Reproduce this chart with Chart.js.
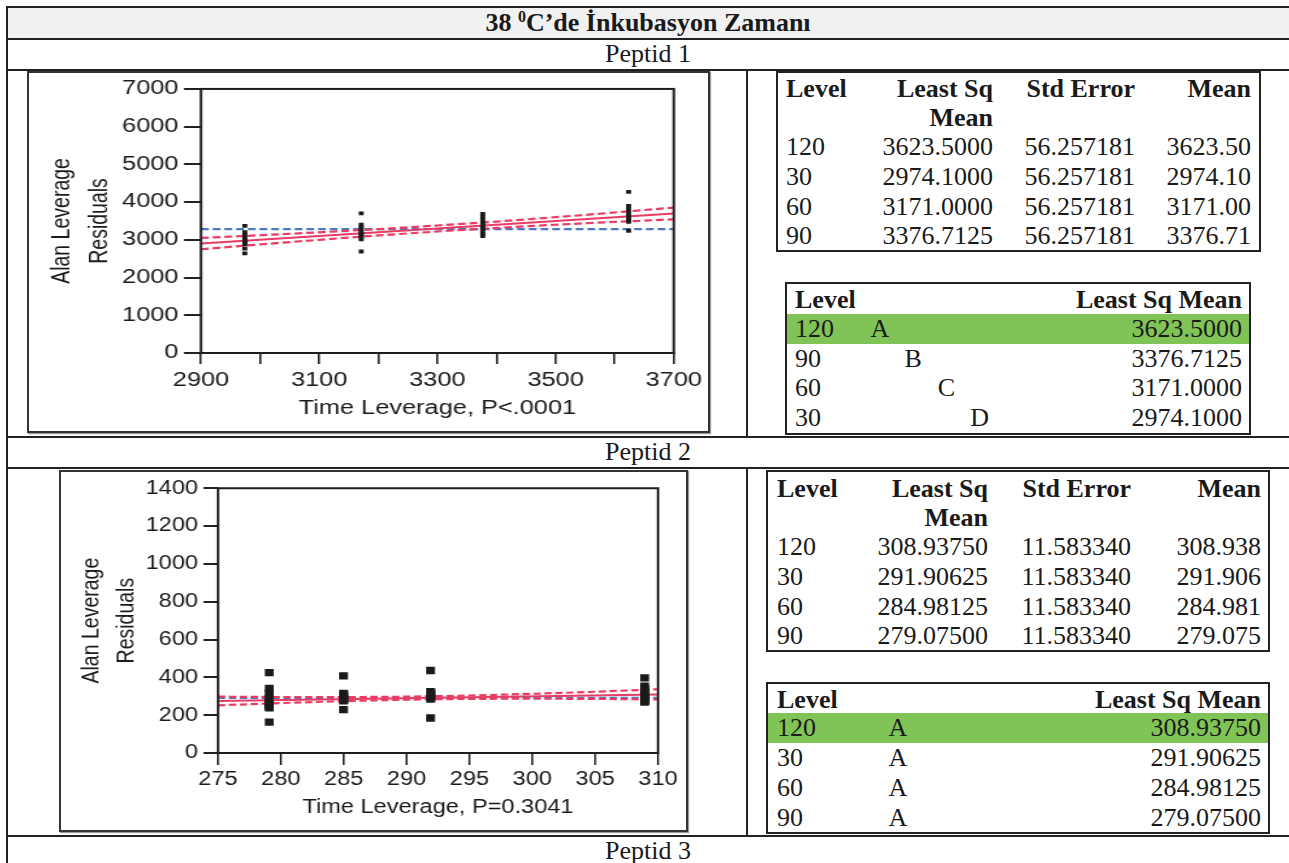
<!DOCTYPE html>
<html>
<head>
<meta charset="utf-8">
<script src="https://cdn.jsdelivr.net/npm/chart.js@4.4.1/dist/chart.umd.min.js"></script>
<style>
  body { margin: 0; background: #fff; width: 1289px; height: 863px; overflow: hidden; position: relative;
         font-family: 'Liberation Serif', 'Times New Roman', serif; color: #1a1a1a; }
  .hl { position: absolute; height: 2px; background: #222; }
  .vl { position: absolute; width: 2px; background: #222; }
  .t { position: absolute; white-space: nowrap; font-size: 26px; line-height: 30px; height: 30px; }
  .box { position: absolute; border: 2px solid #222; box-sizing: border-box; }
  .cbox { position: absolute; border: 2px solid #333; box-sizing: border-box; box-shadow: 1px 1px 1px #999; }
  canvas { position: absolute; transform-origin: 0 0; }
</style>
</head>
<body>
<script>
// ---- Peptid 1 : leverage plot data ----
const p1GroupX = [2974.1, 3171.0, 3376.7125, 3623.5];
const p1Res30  = [3370, 3200, 3130, 3060, 3000, 2960, 2920, 2890, 2770, 2640];
const p1Res60  = [3700, 3400, 3340, 3280, 3220, 3160, 3110, 3060, 3010, 2690];
const p1Res90  = [3690, 3620, 3540, 3460, 3400, 3340, 3280, 3220, 3160, 3100];
const p1Res120 = [4270, 3900, 3820, 3740, 3660, 3590, 3540, 3500, 3480, 3240];
const p1FitX = [2900, 3700];
const p1FitY = [2900, 3700];
const p1CurveX = [2900, 3000, 3100, 3200, 3300, 3400, 3500, 3600, 3700];
const p1Upper  = [3050, 3122, 3200, 3284, 3380, 3485, 3600, 3725, 3855];
const p1Lower  = [2750, 2878, 3000, 3116, 3220, 3315, 3400, 3475, 3545];
const p1Mean = 3286.3;

// ---- Peptid 2 : leverage plot data ----
const p2GroupX = [279.075, 284.98125, 291.90625, 308.9375];
const p2Res90  = [425, 341, 315, 292, 275, 262, 252, 245, 239, 163];
const p2Res60  = [408, 315, 310, 305, 296, 288, 282, 279, 276, 229];
const p2Res30  = [436, 324, 318, 315, 308, 300, 293, 290, 285, 185];
const p2Res120 = [397, 354, 340, 325, 312, 300, 290, 280, 275, 269];
const p2FitX = [275, 310];
const p2FitY = [275, 310];
const p2CurveX = [275, 280, 285, 290, 295, 300, 305, 310];
const p2Upper  = [298, 296, 296, 298, 304, 313, 324, 337];
const p2Lower  = [252, 264, 274, 282, 286, 287, 286, 283];
const p2Mean = 291.2;

// ---- tables ----
const levels = ['120', '30', '60', '90'];
const p1LsMean = ['3623.5000', '2974.1000', '3171.0000', '3376.7125'];
const p1StdErr = ['56.257181', '56.257181', '56.257181', '56.257181'];
const p1MeanTxt = ['3623.50', '2974.10', '3171.00', '3376.71'];
const p1SortLevel = ['120', '90', '60', '30'];
const p1Letter = ['A', 'B', 'C', 'D'];
const p1SortMean = ['3623.5000', '3376.7125', '3171.0000', '2974.1000'];

const p2LsMean = ['308.93750', '291.90625', '284.98125', '279.07500'];
const p2StdErr = ['11.583340', '11.583340', '11.583340', '11.583340'];
const p2MeanTxt = ['308.938', '291.906', '284.981', '279.075'];
const p2SortLevel = ['120', '30', '60', '90'];
const p2Letter = ['A', 'A', 'A', 'A'];
const p2SortMean = ['308.93750', '291.90625', '284.98125', '279.07500'];

const RED = '#ea3b62', BLUE = '#4a78c4';

function el(cls, l, t, w, h, extra) {
  const d = document.createElement('div');
  d.className = cls;
  d.style.left = l + 'px'; d.style.top = t + 'px';
  if (w != null) d.style.width = w + 'px';
  if (h != null) d.style.height = h + 'px';
  if (extra) Object.assign(d.style, extra);
  document.body.appendChild(d);
  return d;
}

function txt(s, x, y, align, bold) {
  const d = el('t', x, y - 15);
  d.innerHTML = s;
  if (align === 'right') { d.style.left = (x - 400) + 'px'; d.style.width = '400px'; d.style.textAlign = 'right'; }
  if (align === 'center') { d.style.left = (x - 300) + 'px'; d.style.width = '600px'; d.style.textAlign = 'center'; }
  if (bold) d.style.fontWeight = 'bold';
  return d;
}

// outer table frame
el('', 8, 8, 1281, 30, { position: 'absolute', background: '#f1f1f1' });
[6, 38, 69, 436, 467, 835].forEach(y => el('hl', 6, y, 1283));
el('vl', 6, 6, null, 857);
el('vl', 746, 70, null, 366);
el('vl', 746, 469, null, 366);

txt('38 <span style="font-size:16px;position:relative;top:-9px">0</span>C’de İnkubasyon Zamanı', 648, 23, 'center', true);
txt('Peptid 1', 648, 54, 'center');
txt('Peptid 2', 648, 452, 'center');
txt('Peptid 3', 648, 851, 'center');

// means tables
function meansTable(bx, by, bw, bh, xLevel, xLs, xSe, xMean, yHead, rowsY, ls, se, mn) {
  el('box', bx, by, bw, bh);
  txt('Level', xLevel, yHead, 'left', true);
  txt('Least Sq', xLs, yHead, 'right', true);
  txt('Mean', xLs, yHead + 29, 'right', true);
  txt('Std Error', xSe, yHead, 'right', true);
  txt('Mean', xMean, yHead, 'right', true);
  for (let i = 0; i < levels.length; i++) {
    txt(levels[i], xLevel, rowsY[i], 'left');
    txt(ls[i], xLs, rowsY[i], 'right');
    txt(se[i], xSe, rowsY[i], 'right');
    txt(mn[i], xMean, rowsY[i], 'right');
  }
}
function lettersTable(bx, by, bw, bh, xLevel, xLetter, dLetter, xVal, yHead, rowsY, lv, lt, vals) {
  el('box', bx, by, bw, bh);
  el('', bx + 2, rowsY[0] - 15, bw - 4, 30, { position: 'absolute', background: '#80c457' });
  txt('Level', xLevel, yHead, 'left', true);
  txt('Least Sq Mean', xVal, yHead, 'right', true);
  for (let i = 0; i < lv.length; i++) {
    txt(lv[i], xLevel, rowsY[i], 'left');
    txt(lt[i], xLetter + dLetter * (lt[i].charCodeAt(0) - 65), rowsY[i], 'center');
    txt(vals[i], xVal, rowsY[i], 'right');
  }
}
meansTable(776, 71, 485, 181, 786, 993, 1135, 1251, 89, [147, 177, 207, 236], p1LsMean, p1StdErr, p1MeanTxt);
lettersTable(785, 282, 466, 153, 795, 880, 33.2, 1242, 300, [329, 359, 388, 418], p1SortLevel, p1Letter, p1SortMean);
meansTable(766, 470, 504, 182, 777, 988, 1131, 1261, 489, [547, 577, 607, 636], p2LsMean, p2StdErr, p2MeanTxt);
lettersTable(766, 682, 504, 152, 777, 898, 0, 1261, 700, [728, 758, 788, 818], p2SortLevel, p2Letter, p2SortMean);

// chart boxes
el('cbox', 27, 71, 683, 362);
el('cbox', 59, 470, 629, 362);

const framePlugin = {
  id: 'frame',
  afterDraw(chart) {
    const a = chart.chartArea, ctx = chart.ctx;
    ctx.save();
    ctx.strokeStyle = '#1e1e1e';
    ctx.lineWidth = 2;
    ctx.strokeRect(a.left, a.top, a.right - a.left, a.bottom - a.top);
    ctx.restore();
  }
};

function xy(xs, ys) { return xs.map((x, i) => ({ x: x, y: ys[i] })); }

function leveragePlot(g) {
  const W = Math.round(g.cw / g.s), H = g.ch, s = g.cw / W;
  const aL = (g.pl - g.cl) / s, aR = (g.pr - g.cl) / s;
  const aT = g.pt - g.ct, aB = g.pb - g.ct;
  const yTick = (g.pl - g.ytick0) / s;
  const yLabPad = aL - yTick - (g.ylabR - g.cl) / s;
  const yTitlePad = (g.ytitleX - g.cl) / s - 14.5;
  const xAxisH = g.xtitleY - g.ct - aB + 11.4;
  const xLabPad = g.xlabY - g.ct - aB - g.xtl - 11.4;

  const cv = document.createElement('canvas');
  cv.width = W; cv.height = H;
  cv.style.left = g.cl + 'px'; cv.style.top = g.ct + 'px';
  cv.style.width = W + 'px'; cv.style.height = H + 'px';
  cv.style.transform = 'scaleX(' + s + ')';
  document.body.appendChild(cv);

  const pts = [];
  g.groupX.forEach((x, i) => g.res[i].forEach(r => pts.push({ x: x, y: r })));

  const font = { family: "'Liberation Sans', Arial, sans-serif", size: 19.5 };
  new Chart(cv, {
    type: 'scatter',
    data: {
      datasets: [
        { data: pts, pointStyle: 'rect', pointRadius: g.ptR, backgroundColor: '#1a1a1a', borderWidth: 0 },
        { data: xy(g.fitX, g.fitY), showLine: true, borderColor: RED, borderWidth: 2, pointRadius: 0 },
        { data: xy(g.curveX, g.upper), showLine: true, borderColor: RED, borderWidth: 2.2, borderDash: [6, 3],
          pointRadius: 0, cubicInterpolationMode: 'monotone' },
        { data: xy(g.curveX, g.lower), showLine: true, borderColor: RED, borderWidth: 2.2, borderDash: [6, 3],
          pointRadius: 0, cubicInterpolationMode: 'monotone' },
        { data: [{ x: g.xmin, y: g.mean }, { x: g.xmax, y: g.mean }], showLine: true, borderColor: BLUE,
          borderWidth: 2.2, borderDash: [6, 3], pointRadius: 0 }
      ]
    },
    options: {
      responsive: false,
      devicePixelRatio: 1,
      animation: false,
      events: [],
      layout: { padding: { left: 0, right: W - aR, top: aT, bottom: H - aB - xAxisH } },
      plugins: { legend: { display: false }, tooltip: { enabled: false } },
      scales: {
        x: {
          type: 'linear', min: g.xmin, max: g.xmax,
          ticks: { stepSize: g.xstep, autoSkip: false, maxRotation: 0, padding: xLabPad, font: font, color: '#1a1a1a',
                   callback: v => ((v - g.xmin) % g.xlabStep === 0 ? String(v) : '') },
          grid: { display: true, drawOnChartArea: false, drawTicks: true, tickLength: g.xtl, color: '#222', lineWidth: 1.6 },
          border: { display: false },
          title: { display: true, text: g.xtitle, font: { family: font.family, size: 19.5, lineHeight: 1.2 }, padding: 0, color: '#1a1a1a' },
          afterFit: sc => { sc.height = xAxisH; }
        },
        y: {
          min: 0, max: g.ymax,
          ticks: { stepSize: g.ystep, autoSkip: false, padding: yLabPad, font: font, color: '#1a1a1a',
                   callback: v => String(v) },
          grid: { display: true, drawOnChartArea: false, drawTicks: true, tickLength: yTick, color: '#222', lineWidth: 2 },
          border: { display: false },
          title: { display: true, text: ['Alan Leverage', 'Residuals'],
                   font: { family: font.family, size: 19.5, lineHeight: 29 / 19.5 }, padding: { top: yTitlePad, bottom: 0 }, color: '#1a1a1a' },
          afterFit: sc => { sc.width = aL; }
        }
      }
    },
    plugins: [framePlugin]
  });
}

leveragePlot({
  cl: 29, ct: 73, cw: 679, ch: 358, s: 1.3,
  pl: 201, pr: 678, pt: 86, pb: 353,
  ytick0: 184, ylabR: 178.5, ytitleX: 62, xtitleY: 409, xlabY: 380, xtl: 11,
  xmin: 2900, xmax: 3700, xstep: 100, xlabStep: 200, ymax: 7000, ystep: 1000, ptR: 2.7,
  groupX: p1GroupX, res: [p1Res30, p1Res60, p1Res90, p1Res120],
  fitX: p1FitX, fitY: p1FitY, curveX: p1CurveX, upper: p1Upper, lower: p1Lower, mean: p1Mean,
  xtitle: 'Time Leverage, P<.0001'
});

leveragePlot({
  cl: 61, ct: 472, cw: 625, ch: 358, s: 1.21,
  pl: 218, pr: 658, pt: 486, pb: 753,
  ytick0: 203.5, ylabR: 198, ytitleX: 91.5, xtitleY: 808, xlabY: 779, xtl: 12,
  xmin: 275, xmax: 310, xstep: 5, xlabStep: 5, ymax: 1400, ystep: 200, ptR: 5.2,
  groupX: p2GroupX, res: [p2Res90, p2Res60, p2Res30, p2Res120],
  fitX: p2FitX, fitY: p2FitY, curveX: p2CurveX, upper: p2Upper, lower: p2Lower, mean: p2Mean,
  xtitle: 'Time Leverage, P=0.3041'
});
</script>
</body>
</html>
